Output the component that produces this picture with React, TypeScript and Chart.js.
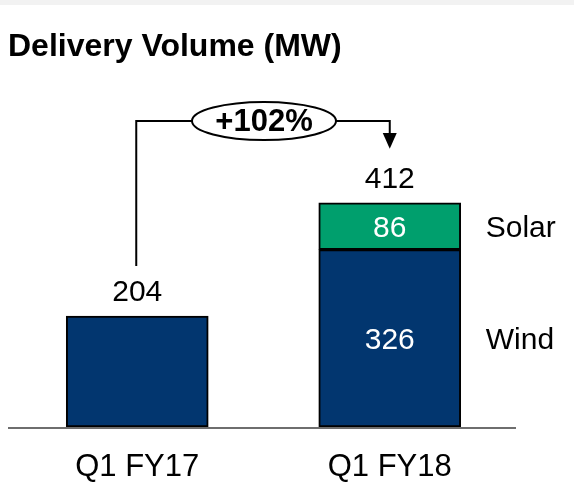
import React, { useEffect, useRef } from "react";
import { Chart, registerables } from "chart.js";

Chart.register(...registerables);

const title = "Delivery Volume (MW)";
const categories = ["Q1 FY17", "Q1 FY18"];
const windValues: (number | null)[] = [204, 326];
const solarValues: (number | null)[] = [null, 86];
const seriesNames = ["Wind", "Solar"];
const growthLabel = "+102%";
const yMax = 600;

const NAVY = "#02366F";
const GREEN = "#009F6D";
const FONT = '"Liberation Sans", Arial, sans-serif';

const overlay = {
  id: "overlay",
  beforeDraw(chart: any) {
    const ctx = chart.ctx;
    ctx.save();
    ctx.fillStyle = "#ffffff";
    ctx.fillRect(0, 0, chart.width, chart.height);
    ctx.fillStyle = "#f2f2f2";
    ctx.fillRect(0, 0, chart.width, 5);
    ctx.restore();
  },
  afterDatasetsDraw(chart: any) {
    const ctx = chart.ctx;
    const xs = chart.scales.x;
    const ys = chart.scales.y;
    const area = chart.chartArea;
    ctx.save();

    // baseline
    ctx.strokeStyle = "#6e6e6e";
    ctx.lineWidth = 2;
    ctx.beginPath();
    ctx.moveTo(8, area.bottom + 1);
    ctx.lineTo(area.right, area.bottom + 1);
    ctx.stroke();

    // title
    ctx.fillStyle = "#000";
    ctx.font = `bold 32px ${FONT}`;
    ctx.textAlign = "left";
    ctx.textBaseline = "alphabetic";
    ctx.fillText(title, 8, 56);

    ctx.textAlign = "center";

    const totals = categories.map((_, i) => (windValues[i] || 0) + (solarValues[i] || 0));
    const centers = categories.map((_, i) => xs.getPixelForValue(i));
    const labelBase = totals.map((t) => ys.getPixelForValue(t) - 15);

    // category labels
    ctx.font = `31px ${FONT}`;
    ctx.textBaseline = "middle";
    categories.forEach((c, i) => ctx.fillText(c, centers[i], 467));

    // totals
    ctx.font = `30px ${FONT}`;
    ctx.textBaseline = "alphabetic";
    totals.forEach((t, i) => ctx.fillText(String(t), centers[i], labelBase[i]));

    // inside segment labels (stacked only)
    const dy = 2;
    ctx.fillStyle = "#fff";
    ctx.textBaseline = "middle";
    categories.forEach((_, i) => {
      const w = windValues[i];
      const s = solarValues[i];
      if (s != null && w != null) {
        ctx.fillText(String(w), centers[i], (ys.getPixelForValue(0) + ys.getPixelForValue(w)) / 2 + dy);
        ctx.fillText(String(s), centers[i], (ys.getPixelForValue(w) + ys.getPixelForValue(w + s)) / 2 + dy);
      }
    });

    // series labels next to last bar
    const last = categories.length - 1;
    const meta = chart.getDatasetMeta(0);
    const barRight = meta.data[last].x + meta.data[last].width / 2;
    ctx.fillStyle = "#000";
    ctx.textAlign = "left";
    const wl = windValues[last] || 0;
    const sl = solarValues[last] || 0;
    ctx.fillText(seriesNames[0], barRight + 25, (ys.getPixelForValue(0) + ys.getPixelForValue(wl)) / 2 + dy);
    ctx.fillText(seriesNames[1], barRight + 25, (ys.getPixelForValue(wl) + ys.getPixelForValue(wl + sl)) / 2 + dy);

    // connector
    const lineY = 121;
    const x0 = centers[0] - 1;
    const x1 = centers[1];
    const midX = (x0 + x1) / 2 + 1;
    const rx = 72;
    const ry = 19;
    ctx.strokeStyle = "#000";
    ctx.lineWidth = 2;
    ctx.beginPath();
    ctx.moveTo(x0, labelBase[0] - 35);
    ctx.lineTo(x0, lineY);
    ctx.lineTo(midX - rx, lineY);
    ctx.moveTo(midX + rx, lineY);
    ctx.lineTo(x1, lineY);
    ctx.lineTo(x1, 134);
    ctx.stroke();
    const tip = labelBase[1] - 39;
    ctx.fillStyle = "#000";
    ctx.beginPath();
    ctx.moveTo(x1 - 7, 133);
    ctx.lineTo(x1 + 7, 133);
    ctx.lineTo(x1, tip);
    ctx.closePath();
    ctx.fill();

    ctx.beginPath();
    ctx.ellipse(midX, lineY, rx, ry, 0, 0, Math.PI * 2);
    ctx.fillStyle = "#fff";
    ctx.fill();
    ctx.stroke();
    ctx.fillStyle = "#000";
    ctx.font = `bold 31px ${FONT}`;
    ctx.textAlign = "center";
    ctx.textBaseline = "middle";
    ctx.fillText(growthLabel, midX, lineY + 1);

    ctx.restore();
  },
};

export default function App() {
  const ref = useRef<HTMLCanvasElement>(null);
  useEffect(() => {
    if (!ref.current) return;
    const chart = new Chart(ref.current, {
      type: "bar",
      data: {
        labels: categories,
        datasets: [
          {
            label: seriesNames[0],
            data: windValues,
            backgroundColor: NAVY,
            borderColor: "#000",
            borderWidth: 2,
            borderSkipped: false,
            barThickness: 142,
          },
          {
            label: seriesNames[1],
            data: solarValues,
            backgroundColor: GREEN,
            borderColor: "#000",
            borderWidth: 2,
            borderSkipped: false,
            barThickness: 142,
          },
        ],
      },
      options: {
        responsive: false,
        animation: false,
        layout: { padding: { left: 11, right: 58, top: 100.6, bottom: 63 } },
        plugins: { legend: { display: false }, tooltip: { enabled: false }, title: { display: false } },
        scales: {
          x: { stacked: true, display: false },
          y: { stacked: true, display: false, min: 0, max: yMax },
        },
      },
      plugins: [overlay],
    });
    return () => chart.destroy();
  }, []);
  return (
    <div style={{ position: "fixed", left: 0, top: 0, width: 574, height: 490, background: "#fff" }}>
      <canvas ref={ref} width={574} height={490} />
    </div>
  );
}
